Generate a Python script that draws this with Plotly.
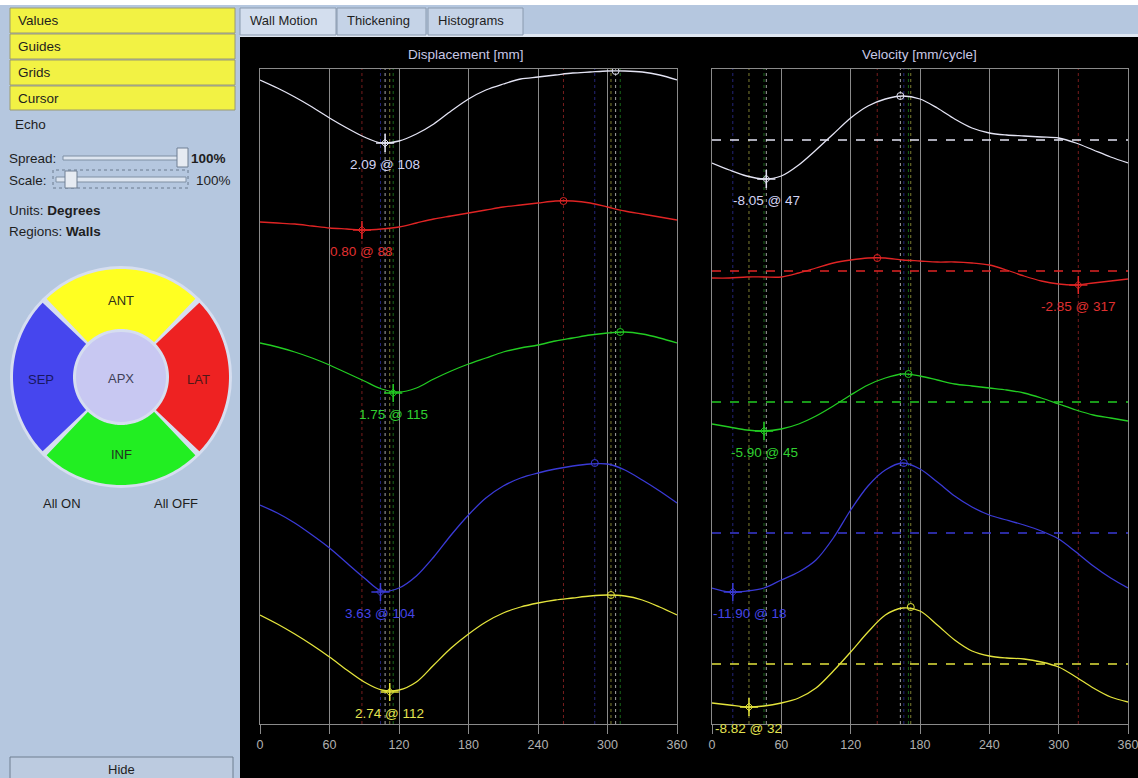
import numpy as np
import plotly.graph_objects as go

W, H = 1138, 778

# ---------------- data ----------------
deg = list(range(0, 361, 15))
tick_vals = [0, 60, 120, 180, 240, 300, 360]
regions = ["ANT", "LAT", "INF", "SEP", "APX"]

# Displacement curves: vertical track position of each trace (screen rows, top=69, bottom=724)
disp_white = [80, 88, 97, 107, 118, 128, 137, 143, 141, 134, 124, 111, 99, 90, 84, 79, 77, 75, 73, 72, 71, 71, 72, 75, 80]
disp_red = [222, 223, 224, 226, 228, 229, 230, 229, 227, 223, 219, 216, 213, 210, 207, 205, 203, 201, 201, 203, 207, 211, 214, 217, 220]
disp_green = [343, 347, 352, 358, 365, 373, 381, 389, 392, 388, 379, 371, 364, 358, 352, 348, 345, 341, 338, 335, 333, 332, 334, 338, 343]
disp_blue = [505, 513, 523, 535, 548, 563, 578, 591, 588, 576, 557, 535, 515, 498, 486, 478, 473, 469, 466, 464, 464, 470, 480, 491, 503]
disp_yellow = [615, 624, 634, 645, 657, 670, 682, 690, 690, 682, 665, 648, 634, 622, 613, 607, 603, 600, 598, 596, 595, 596, 600, 607, 615]

disp_min_deg = [108, 88, 115, 104, 112]
disp_min_pos = [143, 230, 393, 592, 692]
disp_min_val = [2.09, 0.80, 1.75, 3.63, 2.74]
disp_max_deg = [307, 262, 311, 289, 303]
disp_max_pos = [71, 201, 332, 463, 595]

# Velocity curves
vel_white = [163, 170, 176, 179, 176, 165, 150, 134, 118, 106, 99, 96, 99, 108, 119, 128, 133, 135, 136, 137, 138, 143, 150, 157, 163]
vel_red = [278, 278, 277, 277, 277, 273, 268, 263, 260, 258, 258, 260, 261, 262, 262, 263, 265, 270, 276, 281, 284, 285, 283, 281, 279]
vel_green = [424, 427, 430, 431, 429, 424, 416, 406, 395, 385, 378, 374, 376, 380, 384, 386, 388, 390, 393, 398, 404, 410, 415, 418, 421]
vel_blue = [588, 592, 591, 588, 580, 572, 560, 538, 510, 486, 470, 463, 469, 482, 496, 507, 515, 520, 525, 531, 539, 552, 566, 578, 588]
vel_yellow = [703, 705, 707, 706, 703, 698, 688, 671, 652, 632, 615, 608, 611, 625, 640, 651, 656, 658, 659, 662, 667, 677, 688, 697, 702]
vel_zero_pos = [140, 271, 402, 533, 664]

vel_min_deg = [47, 317, 45, 18, 32]
vel_min_pos = [179, 285, 431, 592, 707]
vel_min_val = [-8.05, -2.85, -5.90, -11.90, -8.82]
vel_max_deg = [163, 143, 170, 166, 172]
vel_max_pos = [96, 258, 374, 463, 607]

# ---------------- styles ----------------
line_cols = ["#e4e4f4", "#e02424", "#22cc22", "#3a3ad6", "#e4e43c"]
label_cols = ["#d4d4f4", "#e03030", "#30d030", "#4444e6", "#e4e450"]
guide_cols = ["rgba(220,220,220,0.75)", "rgba(170,40,40,0.7)", "rgba(40,170,40,0.6)",
              "rgba(60,60,200,0.6)", "rgba(210,210,80,0.6)"]
label_xshift_vel = [0, 0, 0, 17, 0]
FONT = "Liberation Sans, Arial, sans-serif"
PANEL = "#b5c7df"
GRID = "#8a8a8a"
UI_SIZE = 13.5

def px(x):
    return x / W

def py(y):
    return 1 - y / H

fig = go.Figure()
shapes = []
ann = []

# ---------------- background pieces ----------------
shapes.append(dict(type="rect", xref="paper", yref="paper", x0=px(240), x1=1, y0=0, y1=py(37),
                   fillcolor="black", line=dict(width=0), layer="below"))
shapes.append(dict(type="rect", xref="paper", yref="paper", x0=0, x1=1, y0=py(5), y1=1,
                   fillcolor="white", line=dict(width=0), layer="below"))
shapes.append(dict(type="rect", xref="paper", yref="paper", x0=px(240), x1=1, y0=py(37), y1=py(34),
                   fillcolor="#dfe7f2", line=dict(width=0), layer="below"))

# tabs
tabs = [("Wall Motion", 240, 336, "#d3deee"), ("Thickening", 337, 426, "#c5d3e7"), ("Histograms", 428, 523, "#c5d3e7")]
for name, x0, x1, col in tabs:
    shapes.append(dict(type="rect", xref="paper", yref="paper", x0=px(x0), x1=px(x1), y0=py(35), y1=py(8),
                       fillcolor=col, line=dict(color="#8a9aae", width=1), layer="below"))
    ann.append(dict(x=px(x0 + 8), y=py(21), xref="paper", yref="paper", text=name, showarrow=False,
                    xanchor="left", yanchor="middle", font=dict(family=FONT, size=13, color="#1e1e1e")))

# left panel buttons
for name, y0, y1 in [("Values", 8, 33), ("Guides", 34, 59), ("Grids", 60, 85), ("Cursor", 86, 110)]:
    shapes.append(dict(type="rect", xref="paper", yref="paper", x0=px(10), x1=px(235), y0=py(y1), y1=py(y0),
                       fillcolor="#f2f244", line=dict(color="#9a9a70", width=1), layer="below"))
    ann.append(dict(x=px(16), y=py((y0 + y1) / 2), xref="paper", yref="paper", text=name, showarrow=False,
                    xanchor="left", yanchor="middle", font=dict(family=FONT, size=UI_SIZE, color="#1e1e1e")))

def left_text(txt, x, y, anchor="left", size=UI_SIZE, color="#1e1e1e"):
    ann.append(dict(x=px(x), y=py(y), xref="paper", yref="paper", text=txt, showarrow=False,
                    xanchor=anchor, yanchor="middle", font=dict(family=FONT, size=size, color=color)))

left_text("Echo", 13, 124)
left_text("Spread:", 7, 158)
left_text("Scale:", 7, 180)
left_text("<b>100%</b>", 189, 158)
left_text("100%", 194, 180)
left_text("Units: <b>Degrees</b>", 7, 210)
left_text("Regions: <b>Walls</b>", 7, 231)

# sliders
shapes.append(dict(type="rect", xref="paper", yref="paper", x0=px(63), x1=px(180), y0=py(160), y1=py(156),
                   fillcolor="#dde5f0", line=dict(color="#7f8fa3", width=1), layer="below"))
shapes.append(dict(type="rect", xref="paper", yref="paper", x0=px(177), x1=px(188), y0=py(167), y1=py(148),
                   fillcolor="#e6ebf2", line=dict(color="#6f7f93", width=1), layer="below"))
shapes.append(dict(type="rect", xref="paper", yref="paper", x0=px(53), x1=px(188), y0=py(188), y1=py(170),
                   fillcolor="rgba(0,0,0,0)", line=dict(color="#6a7a8e", width=1, dash="dot"), layer="below"))
shapes.append(dict(type="rect", xref="paper", yref="paper", x0=px(56), x1=px(186), y0=py(182), y1=py(177),
                   fillcolor="#dde5f0", line=dict(color="#7f8fa3", width=1), layer="below"))
shapes.append(dict(type="rect", xref="paper", yref="paper", x0=px(65), x1=px(77), y0=py(188), y1=py(171),
                   fillcolor="#e6ebf2", line=dict(color="#6f7f93", width=1), layer="below"))

# region wheel
cx, cy = 121, 377
shapes.append(dict(type="circle", xref="paper", yref="paper", x0=px(cx - 111), x1=px(cx + 111),
                   y0=py(cy + 111), y1=py(cy - 111), fillcolor="#d6def0", line=dict(width=0), layer="below"))

def sector(a0, a1, r_in, r_out):
    a = np.radians(np.linspace(a0, a1, 60))
    pts = [(cx + r_out * np.cos(t), cy - r_out * np.sin(t)) for t in a]
    pts += [(cx + r_in * np.cos(t), cy - r_in * np.sin(t)) for t in a[::-1]]
    return "M " + " L ".join(f"{px(x):.5f},{py(y):.5f}" for x, y in pts) + " Z"

seg_cols = {"ANT": "#ffff22", "LAT": "#ee2222", "INF": "#22ee22", "SEP": "#4646ee"}
seg_ang = {"ANT": (45, 135), "LAT": (-45, 45), "INF": (225, 315), "SEP": (135, 225)}
for r in regions[:4]:
    a0, a1 = seg_ang[r]
    shapes.append(dict(type="path", xref="paper", yref="paper", path=sector(a0 + 1.5, a1 - 1.5, 48, 108),
                       fillcolor=seg_cols[r], line=dict(width=0), layer="below"))
shapes.append(dict(type="circle", xref="paper", yref="paper", x0=px(cx - 46), x1=px(cx + 46),
                   y0=py(cy + 46), y1=py(cy - 46), fillcolor="#c8c8f2", line=dict(color="#d6def0", width=2),
                   layer="below"))
label_pos = {"ANT": (121, 300, "#303018"), "LAT": (199, 379, "#501818"), "INF": (121, 455, "#203020"),
             "SEP": (41, 379, "#181860"), "APX": (121, 378, "#404058")}
for r in regions:
    x, y, c = label_pos[r]
    left_text(r, x, y, anchor="center", size=13, color=c)
left_text("All ON", 62, 503, anchor="center", size=13)
left_text("All OFF", 176, 503, anchor="center", size=13)

# hide button
shapes.append(dict(type="rect", xref="paper", yref="paper", x0=px(10), x1=px(233), y0=py(779), y1=py(757),
                   fillcolor="#bccbe0", line=dict(color="#6f7f90", width=1), layer="below"))
left_text("Hide", 121, 769, anchor="center", size=13)

# ---------------- charts ----------------
disp = [disp_white, disp_red, disp_green, disp_blue, disp_yellow]
vel = [vel_white, vel_red, vel_green, vel_blue, vel_yellow]

for i in range(5):
    for d in (disp_min_deg[i], disp_max_deg[i]):
        shapes.append(dict(type="line", xref="x", yref="y domain", x0=d, x1=d, y0=0, y1=1,
                           line=dict(color=guide_cols[i], width=1, dash="dot"), layer="below"))
    for d in (vel_min_deg[i], vel_max_deg[i]):
        shapes.append(dict(type="line", xref="x2", yref="y2 domain", x0=d, x1=d, y0=0, y1=1,
                           line=dict(color=guide_cols[i], width=1, dash="dot"), layer="below"))
    shapes.append(dict(type="line", xref="x2 domain", yref="y2", x0=0, x1=1, y0=vel_zero_pos[i], y1=vel_zero_pos[i],
                       line=dict(color=line_cols[i], width=1.3, dash="dash")))

for i in range(5):
    fig.add_trace(go.Scatter(x=deg, y=disp[i], mode="lines", xaxis="x", yaxis="y",
                             line=dict(color=line_cols[i], width=1.3, shape="spline", smoothing=0.9),
                             hoverinfo="skip", showlegend=False))
    fig.add_trace(go.Scatter(x=deg, y=vel[i], mode="lines", xaxis="x2", yaxis="y2",
                             line=dict(color=line_cols[i], width=1.3, shape="spline", smoothing=0.9),
                             hoverinfo="skip", showlegend=False))

for ax, mind, minp, maxd, maxp in [("", disp_min_deg, disp_min_pos, disp_max_deg, disp_max_pos),
                                   ("2", vel_min_deg, vel_min_pos, vel_max_deg, vel_max_pos)]:
    fig.add_trace(go.Scatter(x=mind, y=minp, mode="markers", xaxis="x" + ax, yaxis="y" + ax,
                             marker=dict(symbol="cross-thin-open", size=13, color=line_cols,
                                         line=dict(width=1.5, color=line_cols)),
                             hoverinfo="skip", showlegend=False))
    fig.add_trace(go.Scatter(x=mind, y=minp, mode="markers", xaxis="x" + ax, yaxis="y" + ax,
                             marker=dict(symbol="diamond-open", size=6, color=line_cols,
                                         line=dict(width=1, color=line_cols)),
                             hoverinfo="skip", showlegend=False))
    fig.add_trace(go.Scatter(x=maxd, y=maxp, mode="markers", xaxis="x" + ax, yaxis="y" + ax,
                             marker=dict(symbol="circle-open", size=7, color=line_cols,
                                         line=dict(width=1, color=line_cols)),
                             hoverinfo="skip", showlegend=False))

for i in range(5):
    ann.append(dict(x=disp_min_deg[i], y=disp_min_pos[i], xref="x", yref="y", showarrow=False,
                    text=f"{disp_min_val[i]:.2f} @ {disp_min_deg[i]}", yshift=-21, xanchor="center",
                    font=dict(family=FONT, size=13.5, color=label_cols[i])))
    ann.append(dict(x=vel_min_deg[i], y=vel_min_pos[i], xref="x2", yref="y2", showarrow=False,
                    text=f"{vel_min_val[i]:.2f} @ {vel_min_deg[i]}", yshift=-21, xanchor="center",
                    xshift=label_xshift_vel[i], font=dict(family=FONT, size=13.5, color=label_cols[i])))

for title, x in [("Displacement [mm]", 466), ("Velocity [mm/cycle]", 919)]:
    ann.append(dict(x=px(x), y=py(54), xref="paper", yref="paper", text=title, showarrow=False,
                    xanchor="center", yanchor="middle", font=dict(family=FONT, size=13.5, color="#c8c8e6")))

xcommon = dict(range=[0, 360], tickvals=tick_vals, ticks="outside", ticklen=9, tickcolor=GRID,
               showgrid=True, gridcolor=GRID, gridwidth=1, showline=True, mirror=True, linecolor=GRID,
               zeroline=False, tickfont=dict(family=FONT, size=12.5, color="#b0b0b0"), fixedrange=True,
               automargin=False, ticklabeloverflow="allow")
ycommon = dict(range=[724, 69], showticklabels=False, ticks="", showgrid=False, zeroline=False,
               showline=True, mirror=True, linecolor=GRID, fixedrange=True, automargin=False,
               domain=[1 - 724 / H, 1 - 69 / H])

fig.update_layout(
    width=W, height=H, autosize=False, margin=dict(l=0, r=0, t=0, b=0, pad=0),
    paper_bgcolor=PANEL, plot_bgcolor="rgba(0,0,0,0)",
    xaxis=dict(domain=[260 / W, 677 / W], anchor="y", **xcommon),
    yaxis=dict(anchor="x", **ycommon),
    xaxis2=dict(domain=[712 / W, 1128 / W], anchor="y2", **xcommon),
    yaxis2=dict(anchor="x2", **ycommon),
    shapes=shapes, annotations=ann, showlegend=False,
)

fig.write_html("out.html", config={"displayModeBar": False, "responsive": False},
               post_script="document.body.style.margin='0';document.body.style.overflow='hidden';")
